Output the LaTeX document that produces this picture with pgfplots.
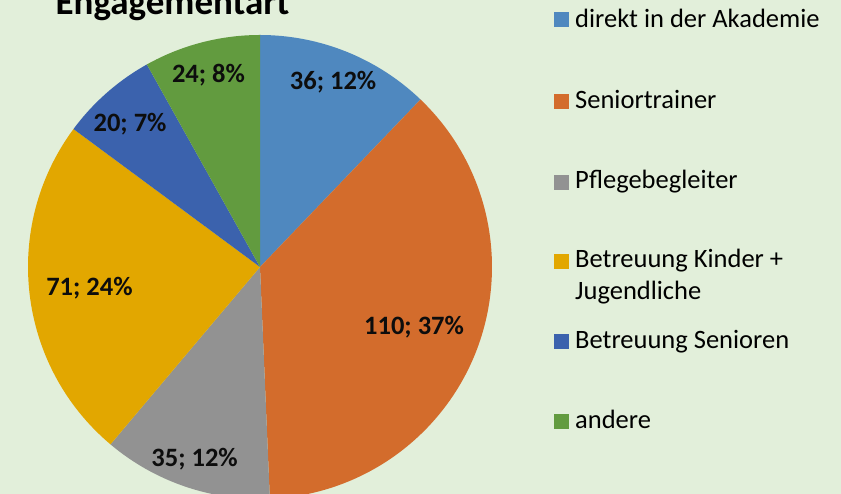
\documentclass[border=0pt]{standalone}
\usepackage{pgfplots}
\usepackage{pgfplotstable}
\pgfplotsset{compat=1.18}
\usepackage{fontspec}
\setmainfont{Carlito}
\definecolor{bgc}{HTML}{E2EFDA}
\definecolor{c1}{HTML}{4F88BF}
\definecolor{c2}{HTML}{D36C2C}
\definecolor{c3}{HTML}{929292}
\definecolor{c4}{HTML}{E2A700}
\definecolor{c5}{HTML}{3B62AD}
\definecolor{c6}{HTML}{629B3F}

\pgfplotstableread{
value color lx ly
36 c1 0.315 0.763
110 c2 0.664 -0.293
35 c3 -0.282 -0.862
71 c4 -0.735 -0.125
20 c5 -0.560 0.586
24 c6 -0.222 0.797
}\piedata

\begin{document}
\begin{tikzpicture}[x=1pt,y=1pt]
\path[use as bounding box] (0,0) rectangle (841,494);
\clip (0,0) rectangle (841,494);
\fill[bgc] (0,0) rectangle (841,494);
\begin{axis}[at={(260pt,227pt)}, anchor=center, scale only axis,
  width=464pt, height=464pt, xmin=-1, xmax=1, ymin=-1, ymax=1,
  hide axis, clip=false]
\pgfmathsetmacro\total{0}
\pgfplotsforeachungrouped \i in {0,...,5}{%
  \pgfplotstablegetelem{\i}{value}\of\piedata
  \pgfmathsetmacro\total{\total+\pgfplotsretval}%
}
\pgfmathsetmacro\cum{0}
\pgfplotsforeachungrouped \i in {0,...,5}{%
  \pgfplotstablegetelem{\i}{value}\of\piedata \let\v\pgfplotsretval
  \pgfplotstablegetelem{\i}{color}\of\piedata \let\c\pgfplotsretval
  \pgfplotstablegetelem{\i}{lx}\of\piedata \let\lx\pgfplotsretval
  \pgfplotstablegetelem{\i}{ly}\of\piedata \let\ly\pgfplotsretval
  \pgfmathsetmacro\a{90-\cum/\total*360}%
  \pgfmathsetmacro\b{90-(\cum+\v)/\total*360}%
  \pgfmathtruncatemacro\pct{round(\v/\total*100)}%
  \edef\tmp{\noexpand\fill[\c] (axis cs:0,0) -- (axis cs:{cos(\a)},{sin(\a)}) arc[start angle=\a, end angle=\b, radius=232pt] -- cycle;}%
  \tmp
  \pgfmathsetmacro\cum{\cum+\v}%
}
\pgfplotsforeachungrouped \i in {0,...,5}{%
  \pgfplotstablegetelem{\i}{value}\of\piedata \let\v\pgfplotsretval
  \pgfplotstablegetelem{\i}{lx}\of\piedata \let\lx\pgfplotsretval
  \pgfplotstablegetelem{\i}{ly}\of\piedata \let\ly\pgfplotsretval
  \pgfmathtruncatemacro\pct{round(\v/\total*100)}%
  \edef\tmp{\noexpand\node[anchor=base, inner sep=0pt, font=\noexpand\fontsize{26.5}{30}\noexpand\selectfont\noexpand\bfseries, text=black!95] at (axis cs:\lx,\ly) {\v; \pct\noexpand\%};}%
  \tmp
}
\end{axis}
% title
\node[anchor=base, inner sep=0pt, font=\fontsize{37}{44}\selectfont\bfseries] at (172.5,479) {Engagementart};
% legend
\begin{scope}[font=\fontsize{26.5}{32}\selectfont]
\fill[c1] (554,494-12) rectangle (569,494-27);
\node[anchor=base west, inner sep=0pt] at (575,494-28) {direkt in der Akademie};
\fill[c2] (554,494-94) rectangle (569,494-109);
\node[anchor=base west, inner sep=0pt] at (575,494-109) {Seniortrainer};
\fill[c3] (554,494-175) rectangle (569,494-190);
\node[anchor=base west, inner sep=0pt] at (575,494-189) {Pflegebegleiter};
\fill[c4] (554,494-254) rectangle (569,494-269);
\node[anchor=base west, inner sep=0pt] at (575,494-268) {Betreuung Kinder +};
\node[anchor=base west, inner sep=0pt] at (575,494-300) {Jugendliche};
\fill[c5] (554,494-334) rectangle (569,494-349);
\node[anchor=base west, inner sep=0pt] at (575,494-349) {Betreuung Senioren};
\fill[c6] (554,494-414) rectangle (569,494-429);
\node[anchor=base west, inner sep=0pt] at (575,494-429) {andere};
\end{scope}
\end{tikzpicture}
\end{document}
